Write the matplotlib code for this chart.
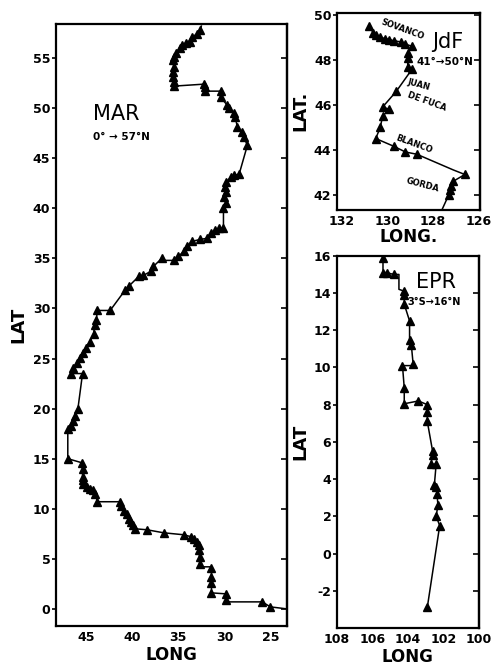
import matplotlib
matplotlib.use("Agg")
import matplotlib.pyplot as plt

# ---------------- data ----------------
# Mid-Atlantic Ridge (lon W, lat N)
mar_lon = [23.2, 25.0, 25.9, 29.9, 29.8, 29.8, 31.4, 31.4, 31.4, 31.4, 31.5, 32.7, 32.7, 32.7, 32.8,
           32.8, 33.0, 33.3, 33.6, 34.4, 36.6, 38.4, 39.7, 39.9, 40.1, 40.4, 40.6, 40.9, 41.2,
           41.3, 43.8, 44.0, 44.3, 44.6, 44.9, 45.3, 45.4, 45.4, 45.4, 45.5, 47.0, 47.0, 46.7,
           46.4, 46.2, 45.9, 45.4, 46.7, 46.4, 46.0, 45.7, 45.4, 45.0, 44.6, 44.2, 44.1, 43.9,
           43.8, 42.4, 40.8, 40.4, 39.3, 38.8, 38.0, 37.7, 36.8, 36.8, 35.5, 35.0, 34.4, 34.1,
           33.5, 32.6, 31.9, 31.5, 31.0, 30.6, 30.1, 30.1, 30.1, 29.8, 30.0, 29.8, 29.9, 29.8,
           29.3, 29.0, 28.4, 27.5, 27.9, 28.1, 28.6, 28.8, 29.0, 29.5, 29.7, 30.4, 30.4, 32.1,
           32.1, 32.2, 35.5, 35.5, 35.6, 35.6, 35.5, 35.6, 35.5, 35.3, 34.8, 34.6, 34.2, 33.7,
           33.5, 33.0, 32.6, 32.5]
mar_lat = [0.0, 0.2, 0.7, 0.7, 0.9, 1.5, 1.6, 2.6, 3.2, 4.1, 4.2, 4.2, 4.5, 5.2, 5.9,
           6.4, 6.7, 7.0, 7.2, 7.4, 7.6, 7.9, 8.0, 8.4, 8.7, 9.0, 9.5, 9.8, 10.3,
           10.7, 10.7, 11.5, 11.9, 12.0, 12.2, 12.5, 12.9, 13.2, 14.0, 14.6, 15.0, 18.0, 18.3,
           18.8, 19.3, 20.0, 23.5, 23.5, 24.1, 24.6, 25.1, 25.6, 26.1, 26.7, 27.4, 28.3, 28.8,
           29.8, 29.8, 31.8, 32.2, 33.2, 33.3, 33.7, 34.2, 35.0, 34.8, 34.8, 35.2, 35.7, 36.2,
           36.7, 36.9, 37.0, 37.5, 37.8, 38.0, 38.0, 39.5, 40.0, 40.5, 41.1, 41.6, 42.1, 42.6,
           43.1, 43.3, 43.4, 46.3, 47.1, 47.6, 48.1, 49.1, 49.5, 50.0, 50.3, 51.1, 51.7, 51.7,
           52.1, 52.4, 52.2, 52.6, 53.1, 53.6, 54.1, 54.8, 55.1, 55.5, 56.0, 56.3, 56.5, 56.6,
           57.1, 57.4, 57.8, 58.2]
mar_tri = [0, 1, 1, 0, 1, 1, 1, 1, 1, 1, 0, 0, 1, 1, 1,
           1, 1, 1, 1, 1, 1, 1, 1, 1, 1, 1, 1, 1, 1,
           1, 1, 1, 1, 1, 1, 1, 1, 1, 1, 1, 1, 1, 1,
           1, 1, 1, 1, 1, 1, 1, 1, 1, 1, 1, 1, 1, 1,
           1, 1, 1, 1, 1, 1, 1, 1, 1, 0, 1, 1, 1, 1,
           1, 1, 1, 1, 1, 1, 1, 0, 1, 1, 1, 1, 1, 1,
           1, 1, 1, 1, 1, 1, 1, 1, 1, 1, 1, 1, 1, 1,
           1, 1, 1, 1, 1, 1, 1, 1, 1, 1, 1, 1, 1, 1,
           1, 1, 1, 0]

# Juan de Fuca region
jdf_lon = [127.6, 127.3, 127.26, 127.2, 127.1, 126.6, 127.1, 128.7, 129.2, 129.7, 130.5,
           130.3, 130.2, 129.9, 130.2, 129.6, 128.9, 129.1, 129.1, 129.1, 128.9, 129.2,
           129.4, 129.7, 129.9, 130.1, 130.3, 130.5, 130.6, 130.8]
jdf_lat = [41.33, 42.0, 42.2, 42.4, 42.6, 42.9, 43.1, 43.8, 43.9, 44.15, 44.5,
           45.0, 45.5, 45.8, 45.9, 46.6, 47.6, 47.7, 48.1, 48.3, 48.6, 48.7,
           48.8, 48.85, 48.9, 48.95, 49.0, 49.1, 49.2, 49.5]
jdf_tri = [0, 1, 1, 1, 1, 1, 0, 1, 1, 1, 1,
           1, 1, 1, 1, 1, 1, 1, 1, 1, 1, 1,
           1, 1, 1, 1, 1, 1, 1, 1]

# East Pacific Rise
epr_lon = [102.9, 102.2, 102.4, 102.3, 102.35, 102.4, 102.5, 102.4, 102.7, 102.6, 102.6,
           102.9, 102.9, 102.9, 103.4, 104.2, 104.2, 104.3, 103.7, 103.7, 103.8, 103.9,
           103.9, 104.2, 104.2, 104.2, 104.5, 104.5, 104.8, 105.2, 105.4, 105.4]
epr_lat = [-2.9, 1.5, 2.0, 2.6, 3.2, 3.55, 3.7, 4.8, 4.8, 5.3, 5.5,
           7.1, 7.6, 8.0, 8.2, 8.05, 8.9, 10.1, 10.1, 10.2, 11.2, 11.5,
           12.5, 13.4, 13.9, 14.1, 14.2, 15.0, 15.0, 15.1, 15.1, 15.9]
epr_tri = [1, 1, 1, 1, 1, 1, 1, 1, 1, 1, 1,
           1, 1, 1, 1, 1, 1, 1, 0, 1, 1, 1,
           1, 1, 1, 1, 0, 0, 1, 1, 1, 1]

mar_xticks = [45, 40, 35, 30, 25]
mar_yticks = [0, 5, 10, 15, 20, 25, 30, 35, 40, 45, 50, 55]
jdf_xticks = [132, 130, 128, 126]
jdf_yticks = [42, 44, 46, 48, 50]
epr_xticks = [108, 106, 104, 102, 100]
epr_yticks = [-2, 0, 2, 4, 6, 8, 10, 12, 14, 16]

# ---------------- drawing ----------------
plt.rcParams['font.family'] = ['DejaVu Sans']
fig = plt.figure(figsize=(4.94, 6.68), dpi=100)

def style(ax, xt, yt):
    ax.set_xticks(xt)
    ax.set_yticks(yt)
    ax.set_xticklabels([str(v) for v in xt], fontweight='bold', fontsize=9)
    ax.set_yticklabels([str(v) for v in yt], fontweight='bold', fontsize=9)
    for s in ax.spines.values():
        s.set_linewidth(1.6)
    ax.tick_params(axis='y', direction='out', length=3, width=1.2,
                   left=True, right=False, labelleft=True, labelright=False, pad=1)
    ax.tick_params(axis='x', length=0, pad=4, labeltop=False, labelbottom=True)
    sec = ax.secondary_yaxis('right')
    sec.set_yticks(yt)
    sec.tick_params(direction='in', length=4, width=1.2, labelright=False)
    sec.spines['right'].set_linewidth(1.6)

def draw(ax, lon, lat, tri):
    ax.plot(lon, lat, color='black', lw=1.1, zorder=2)
    tx = [x for x, t in zip(lon, tri) if t]
    ty = [y for y, t in zip(lat, tri) if t]
    ax.plot(tx, ty, linestyle='none', marker='^', color='black', ms=6, zorder=3)

ax1 = fig.add_axes([0.113, 0.063, 0.468, 0.901])
draw(ax1, mar_lon, mar_lat, mar_tri)
ax1.set_xlim(48.3, 23.2)
ax1.set_ylim(-1.7, 58.4)
style(ax1, mar_xticks, mar_yticks)
ax1.set_xlabel('LONG', fontweight='bold', fontsize=12, labelpad=1)
ax1.set_ylabel('LAT', fontweight='bold', fontsize=13, labelpad=4)
ax1.text(0.16, 0.84, 'MAR', transform=ax1.transAxes, fontsize=15)
ax1.text(0.16, 0.807, '0° → 57°N', transform=ax1.transAxes, fontsize=7.5, fontweight='bold')

ax2 = fig.add_axes([0.682, 0.686, 0.289, 0.295])
draw(ax2, jdf_lon, jdf_lat, jdf_tri)
ax2.set_xlim(132.2, 125.95)
ax2.set_ylim(41.33, 50.1)
style(ax2, jdf_xticks, jdf_yticks)
ax2.set_xlabel('LONG.', fontweight='bold', fontsize=12, labelpad=0)
ax2.set_ylabel('LAT.', fontweight='bold', fontsize=13, labelpad=3)
ax2.text(0.67, 0.82, 'JdF', transform=ax2.transAxes, fontsize=15)
ax2.text(0.56, 0.735, '41°→50°N', transform=ax2.transAxes, fontsize=7.5, fontweight='bold')
lab = dict(transform=ax2.transAxes, fontsize=6, fontweight='bold', ha='center', va='center')
ax2.text(0.46, 0.915, 'SOVANCO', rotation=-20, **lab)
ax2.text(0.57, 0.635, 'JUAN', rotation=-15, **lab)
ax2.text(0.63, 0.55, 'DE FUCA', rotation=-20, **lab)
ax2.text(0.54, 0.335, 'BLANCO', rotation=-20, **lab)
ax2.text(0.60, 0.127, 'GORDA', rotation=-15, **lab)

ax3 = fig.add_axes([0.682, 0.060, 0.287, 0.557])
draw(ax3, epr_lon, epr_lat, epr_tri)
ax3.set_xlim(108, 100.15)
ax3.set_ylim(-4.0, 16.0)
style(ax3, epr_xticks, epr_yticks)
ax3.set_xlabel('LONG', fontweight='bold', fontsize=12, labelpad=1)
ax3.set_ylabel('LAT', fontweight='bold', fontsize=13, labelpad=3)
ax3.text(0.56, 0.914, 'EPR', transform=ax3.transAxes, fontsize=15)
ax3.text(0.50, 0.868, '3°S→16°N', transform=ax3.transAxes, fontsize=7, fontweight='bold')

fig.savefig('out.png', dpi=100)
